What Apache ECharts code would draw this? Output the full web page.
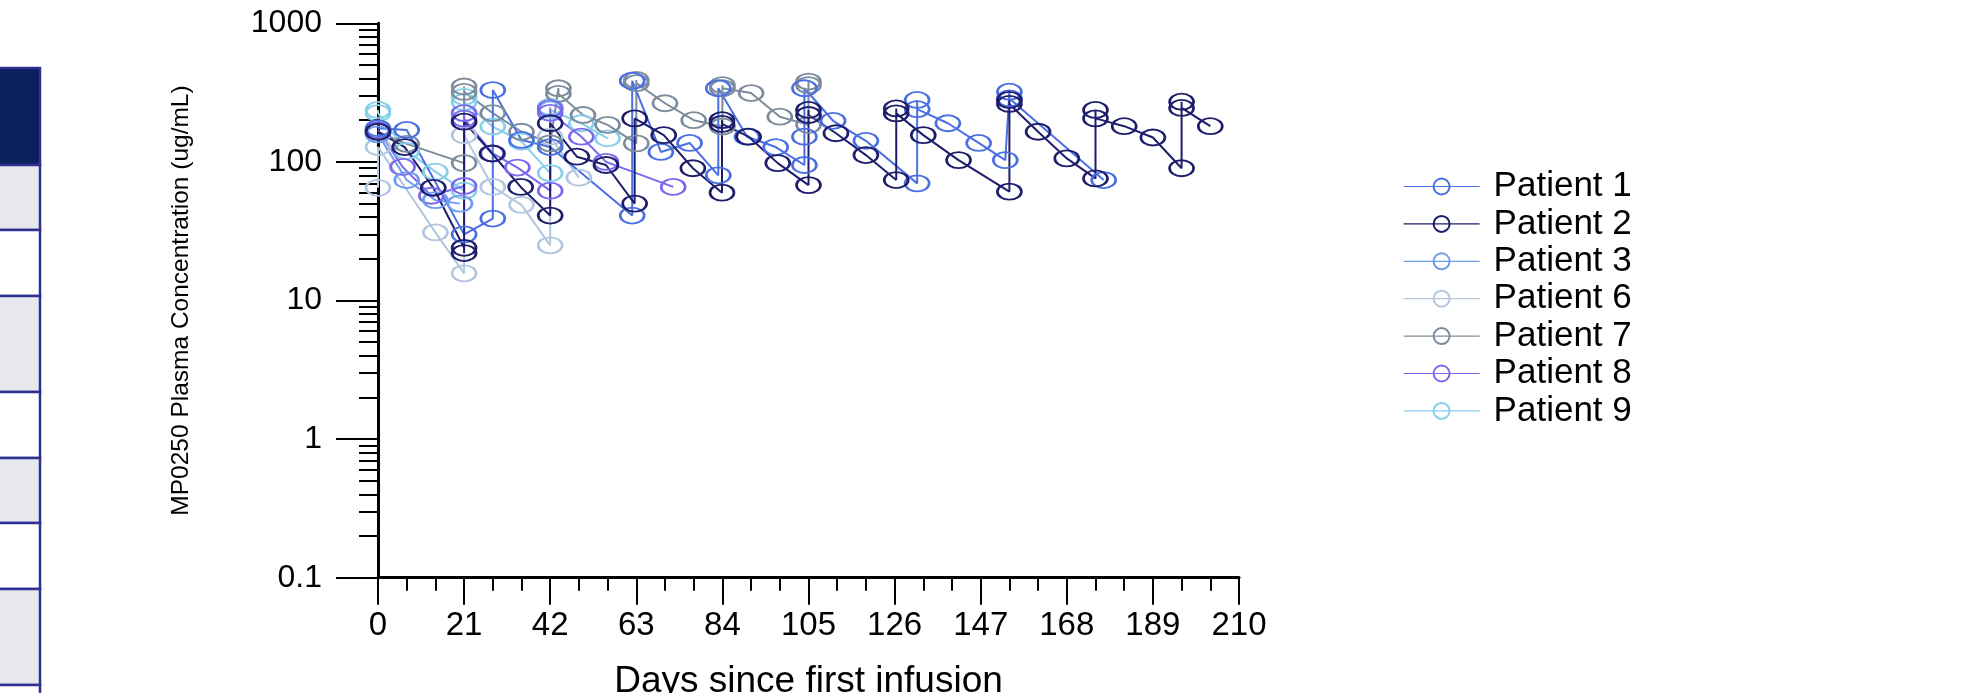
<!DOCTYPE html>
<html>
<head>
<meta charset="utf-8">
<script src="https://cdn.jsdelivr.net/npm/echarts@6/dist/echarts.min.js"></script>
<style>
html,body{margin:0;padding:0;background:#ffffff;}
#chart{width:1985px;height:693px;}
</style>
</head>
<body>
<div id="chart"></div>
<script>
// ---------------- data (day, concentration ug/mL) ----------------
const patientNames = ['Patient 1','Patient 2','Patient 3','Patient 6','Patient 7','Patient 8','Patient 9'];

const patient1 = [[0,175],[7,170],[21,30],[28,39],[28,330],[35,144],[42,128],[62,41],[62,385],[69,118],[76,137],[83,80],[83,340],[90,152],[97,128],[104,95],[104,152],[104,340],[111,198],[119,142],[131.5,70],[131.5,280],[131.5,240],[139,190],[146.5,137],[153,103],[154,321],[154,287],[177,74]];
const patient2 = [[0,165],[6.5,128],[13.5,65],[21,24],[21,22],[21,195],[27.8,115],[34.8,66],[42,41],[42,190],[48.5,109],[55.6,95],[62.6,50],[62.6,206],[69.7,156],[76.8,90],[83.9,60],[83.9,200],[83.9,188],[90.4,152],[97.5,98],[105,68],[105,237],[105,218],[111.7,161],[119,112],[126.4,74],[126.4,243],[126.4,224],[133,156],[141.6,103],[154,61],[154,280],[154,262],[161,165],[168,106],[175,76],[175,237],[175,206],[182,181],[189,150],[196,90],[196,272],[196,245],[203,181]];
const patient3 = [[0,158],[7,74],[14,53],[20,50]];
const patient6 = [[0,65],[0,128],[14,31],[21,15.7],[21,156],[28,66],[35,49],[42,25],[42,152],[49,77]];
const patient7 = [[0,165],[7,135],[21,98],[21,350],[21,320],[28,225],[35,165],[42,136],[44,340],[44,310],[50,218],[56,185],[63,136],[63,390],[63,370],[70,265],[77,200],[84,180],[84,358],[84,340],[91,314],[98,212],[105,185],[105,380],[105,358]];
const patient8 = [[0,170],[6,92],[13,57],[21,67],[21,225],[21,205],[28,115],[34,91],[42,62],[42,243],[42,226],[49.6,152],[55.6,100],[72,66]];
const patient9 = [[0,237],[0,225],[7,120],[14,85],[21,62],[21,295],[21,270],[28,180],[35,140],[42,83],[42,250],[42,237],[49.6,190],[56,148]];

const patientColors = ['#4a6fe3','#1d1d6b','#6f9bef','#b3c6e0','#7d8c9c','#7b68ee','#86cfe9'];

// axis tick values
const xMin = 0, xMax = 210, xStep = 21;
const yMin = 0.1, yMax = 1000;
const yMinorTicks = [0.2,0.3,0.4,0.5,0.6,0.7,0.8,0.9,2,3,4,5,6,7,8,9,20,30,40,50,60,70,80,90,200,300,400,500,600,700,800,900];

// -----------------------------------------------------------------
const dataByName = {
  'Patient 1': patient1, 'Patient 2': patient2, 'Patient 3': patient3,
  'Patient 6': patient6, 'Patient 7': patient7, 'Patient 8': patient8, 'Patient 9': patient9
};
const drawOrder = ['Patient 6','Patient 9','Patient 7','Patient 8','Patient 3','Patient 1','Patient 2'];
const FONT = 'Liberation Sans, Arial, Helvetica, sans-serif';

const series = drawOrder.map(function (name) {
  const c = patientColors[patientNames.indexOf(name)];
  return {
    name: name,
    type: 'line',
    xAxisIndex: 0,
    yAxisIndex: 0,
    data: dataByName[name],
    symbol: 'circle',
    symbolSize: [24, 16],
    showSymbol: true,
    animation: false,
    lineStyle: { color: c, width: 2 },
    itemStyle: { color: 'transparent', borderColor: c, borderWidth: 2.2 },
    emphasis: { disabled: true }
  };
});

// decoration: neighbouring table edge on the far left
const tableRows = [
  [68,165,'#0b1f5c'],[165,230,'#e7e7ee'],[230,296,'#ffffff'],[296,392,'#e7e7ee'],
  [392,458,'#ffffff'],[458,523,'#e7e7ee'],[523,589,'#ffffff'],[589,685,'#e7e7ee'],[685,740,'#ffffff']
];
const graphics = tableRows.map(function (r) {
  return { type: 'rect', silent: true, shape: { x: -6, y: r[0], width: 46, height: r[1] - r[0] },
    style: { fill: r[2], stroke: '#2c3192', lineWidth: 2.5 } };
});

const chart = echarts.init(document.getElementById('chart'), null, { renderer: 'canvas' });
chart.setOption({
  backgroundColor: '#ffffff',
  animation: false,
  graphic: graphics,
  grid: { left: 378, right: 746, top: 23.3, bottom: 115.3, containLabel: false, outerBoundsMode: 'none' },
  legend: {
    orient: 'vertical',
    left: 1398,
    top: 164,
    data: patientNames,
    itemWidth: 76,
    itemHeight: 20,
    itemGap: 2.4,
    selectedMode: false,
    lineStyle: { width: 1.2 },
    textStyle: { fontFamily: FONT, fontSize: 35, color: '#000', padding: [0, 0, 0, 9] }
  },
  xAxis: {
    type: 'value',
    min: xMin, max: xMax, interval: xStep,
    name: 'Days since first infusion',
    nameLocation: 'middle',
    nameGap: 86,
    nameTextStyle: { fontFamily: FONT, fontSize: 37, color: '#000' },
    axisLine: { show: true, onZero: false, lineStyle: { color: '#000', width: 3 } },
    axisTick: { show: true, length: 27, lineStyle: { color: '#000', width: 2 } },
    minorTick: { show: true, splitNumber: 3, length: 13, lineStyle: { color: '#000', width: 2 } },
    axisLabel: { fontFamily: FONT, fontSize: 33, color: '#000', margin: 32 },
    splitLine: { show: false },
    minorSplitLine: { show: false }
  },
  yAxis: [
    {
      type: 'log',
      logBase: 10,
      min: yMin, max: yMax,
      position: 'left',
      name: 'MP0250 Plasma Concentration (ug/mL)',
      nameLocation: 'middle',
      nameGap: 184,
      nameTextStyle: { fontFamily: FONT, fontSize: 24.5, color: '#000' },
      axisLine: { show: true, onZero: false, lineStyle: { color: '#000', width: 3 } },
      axisTick: { show: true, length: 42, lineStyle: { color: '#000', width: 2 } },
      axisLabel: {
        fontFamily: FONT, fontSize: 32, color: '#000', margin: 56,
        formatter: function (v) { return String(Number(Number(v).toPrecision(6))); }
      },
      splitLine: { show: false }
    },
    {
      type: 'value',
      min: Math.log10(yMin), max: Math.log10(yMax),
      position: 'left',
      offset: 0,
      axisLine: { show: false },
      axisLabel: { show: false },
      splitLine: { show: false },
      axisTick: {
        show: true, length: 19, lineStyle: { color: '#000', width: 2 },
        customValues: yMinorTicks.map(function (v) { return Math.log10(v); })
      }
    }
  ],
  series: series
});
</script>
</body>
</html>
